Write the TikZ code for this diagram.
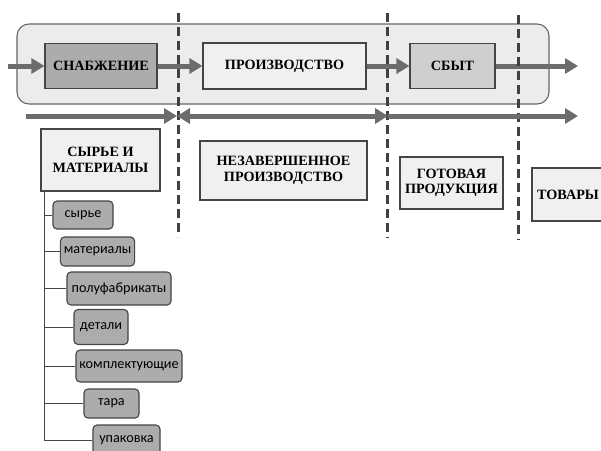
\documentclass[tikz,border=0pt]{standalone}
\usepackage{fontspec}
\setmainfont{Liberation Serif}
\newfontfamily\stagefont{Liberation Serif}
\newfontfamily\childfont{Carlito}
\usetikzlibrary{arrows.meta}
\definecolor{flowgray}{HTML}{6c6c6c}
\definecolor{boxline}{HTML}{454545}
\tikzset{
  stage/.style={draw=boxline, line width=1.1pt, align=center,
    font=\stagefont\fontsize{14.2}{15.5}\selectfont\bfseries},
  item/.style={draw=boxline, line width=1.1pt, rounded corners=4pt,
    fill=gray!65, font=\childfont\fontsize{14.2}{15}\selectfont},
  flow/.style={draw=flowgray, line width=5pt,
    -{Triangle[length=13pt,width=15pt]}},
  border/.style={draw=black!75, line width=3pt, dash pattern=on 9pt off 5pt}
}
\begin{document}
\begin{tikzpicture}[x=1pt, y=-1pt]
  \useasboundingbox (0,0) rectangle (601,450);
  % container of the three stages
  \draw[draw=gray!80!black, line width=1.1pt, fill=gray!15, rounded corners=12pt]
    (17,24) rectangle (549,104);
  \node[stage, fill=gray!65, minimum width=112pt, minimum height=45pt]
    (snab) at (101,66) {СНАБЖЕНИЕ};
  \node[stage, fill=gray!12, minimum width=163pt, minimum height=46pt]
    (proizv) at (284.5,66) {ПРОИЗВОДСТВО};
  \node[stage, fill=gray!38, minimum width=85pt, minimum height=45pt]
    (sbyt) at (452.5,66) {СБЫТ};
  \coordinate (in) at (8,66);
  \coordinate (out) at (578,66);
  \draw[flow] (in) -- (snab.west);
  \draw[flow] (snab.east) -- (proizv.west);
  \draw[flow] (proizv.east) -- (sbyt.west);
  \draw[flow] (sbyt.east) -- (out);
  % borders between stages
  \draw[border] (178,13) -- (178,237);
  \draw[border] (387,13) -- (387,238);
  \draw[border] (518,15) -- (518,240);
  % second row of arrows
  \coordinate (a0) at (26,116);
  \coordinate (a1) at (177,116);
  \coordinate (a2) at (388,116);
  \coordinate (a3) at (578,116);
  \draw[flow] (a0) -- (a1);
  \draw[flow, {Triangle[length=13pt,width=15pt]}-{Triangle[length=13pt,width=15pt]}] (a1) -- (a2);
  \draw[flow] (a2) -- (a3);
  % stocks
  \node[stage, fill=gray!12, minimum width=119pt, minimum height=62pt]
    (sm) at (100.5,160) {СЫРЬЕ И\\МАТЕРИАЛЫ};
  \node[stage, fill=gray!12, minimum width=167pt, minimum height=59pt]
    (nzp) at (283.5,170.5) {НЕЗАВЕРШЕННОЕ\\ПРОИЗВОДСТВО};
  \node[stage, fill=gray!12, minimum width=103pt, minimum height=52pt]
    (gp) at (451.5,183) {ГОТОВАЯ\\ПРОДУКЦИЯ};
  \node[stage, fill=gray!12, minimum width=78pt, minimum height=53pt, text depth=0pt]
    (tov) at (571,194.5) {\hspace*{-6pt}ТОВАРЫ};
  % kinds of raw materials
  \node[item, minimum width=60pt, minimum height=28pt] (syr) at (83,215) {сырье};
  \node[item, minimum width=73pt, minimum height=29pt] (mat) at (97.5,251.5) {материалы};
  \node[item, minimum width=104pt, minimum height=33pt] (pf) at (119,288.5) {полуфабрикаты};
  \node[item, minimum width=54pt, minimum height=35pt] (det) at (101,327) {детали};
  \node[item, minimum width=104pt, minimum height=32pt] (kompl) at (129,366) {комплектующие};
  \node[item, minimum width=55pt, minimum height=29pt] (tara) at (111.5,403.5) {тара};
  \node[item, minimum width=67pt, minimum height=30pt] (upak) at (126.5,440) {упаковка};
  \coordinate (trunk) at (44,191);
  \draw[boxline, line width=1pt] (trunk) -- (trunk |- upak.west);
  \draw[boxline, line width=1pt] (trunk |- syr.west) -- (syr.west);
  \draw[boxline, line width=1pt] (trunk |- mat.west) -- (mat.west);
  \draw[boxline, line width=1pt] (trunk |- pf.west) -- (pf.west);
  \draw[boxline, line width=1pt] (trunk |- det.west) -- (det.west);
  \draw[boxline, line width=1pt] (trunk |- kompl.west) -- (kompl.west);
  \draw[boxline, line width=1pt] (trunk |- tara.west) -- (tara.west);
  \draw[boxline, line width=1pt] (trunk |- upak.west) -- (upak.west);
\end{tikzpicture}
\end{document}
